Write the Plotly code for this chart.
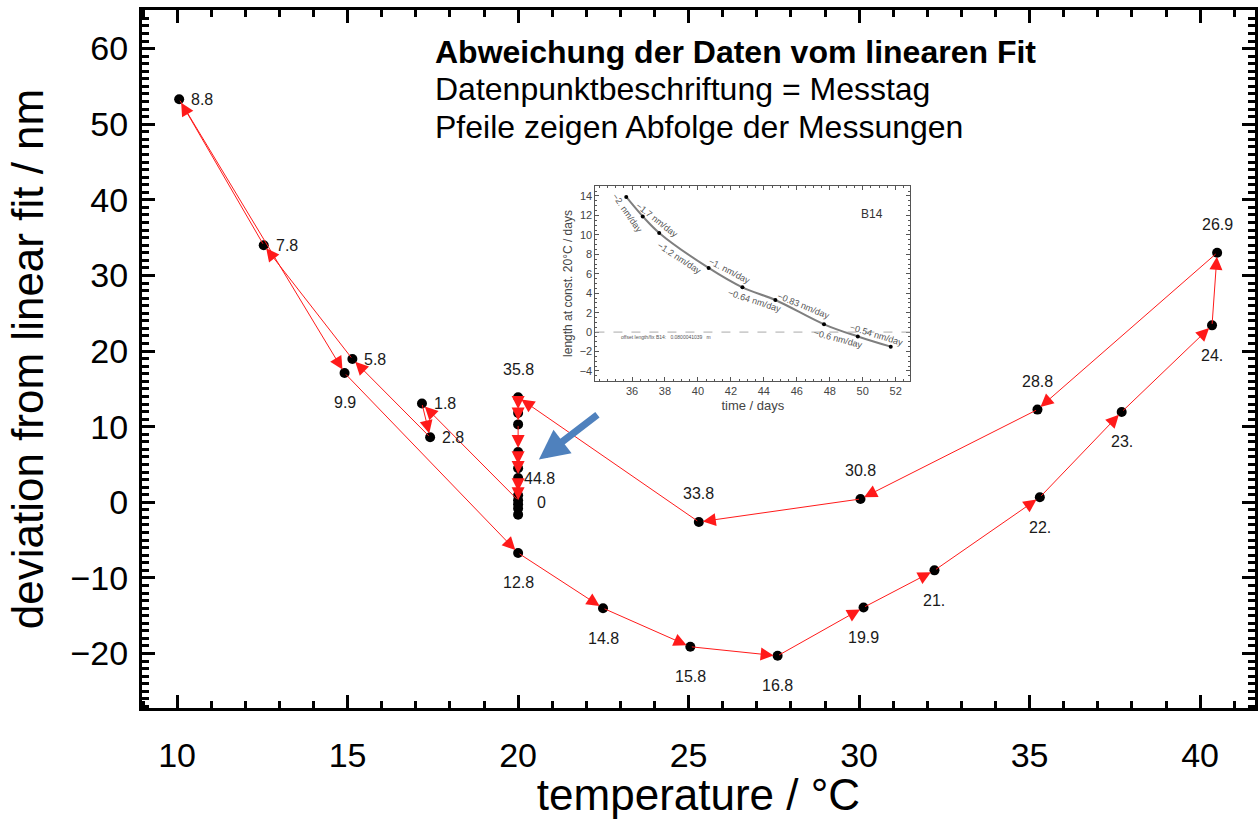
import plotly.graph_objects as go

# ---------------- data ----------------
# measurement sequence in chronological order; label = day of measurement
measure_day = ["0", "1.8", "2.8", "5.8", "7.8", "8.8", "9.9", "12.8", "14.8", "15.8",
               "16.8", "19.9", "21.", "22.", "23.", "24.", "26.9", "28.8", "30.8", "33.8",
               "35.8", "", "", "", "", "44.8", "", "", "", ""]
temperature = [20.0, 17.18, 17.42, 15.14, 12.54, 10.06, 14.91, 20.0, 22.49, 25.05,
               27.61, 30.13, 32.21, 35.30, 37.70, 40.35, 40.50, 35.23, 30.04, 25.30,
               20.0, 20.0, 20.0, 20.0, 20.0, 20.0, 20.0, 20.0, 20.0, 20.0]
deviation = [0.26, 13.06, 8.6, 18.95, 34.0, 53.3, 17.1, -6.7, -14.0, -19.1,
             -20.3, -13.9, -9.0, 0.66, 11.95, 23.4, 33.0, 12.26, 0.44, -2.6,
             13.9, 11.8, 10.3, 6.65, 4.5, 3.2, 0.93, -0.26, -0.83, -1.63]

# inset: length at constant 20 °C
inset_days = [35.65, 36.65, 37.65, 40.65, 42.7, 44.7, 47.65, 49.7, 51.7]
inset_length = [13.9, 11.9, 10.2, 6.6, 4.6, 3.3, 0.8, -0.45, -1.5]
inset_rates = ["\u22122. nm/day", "\u22121.7 nm/day", "\u22121.2 nm/day", "\u22121. nm/day",
               "\u22120.64 nm/day", "\u22120.83 nm/day", "\u22120.6 nm/day", "\u22120.54 nm/day"]
inset_xticks = [36, 38, 40, 42, 44, 46, 48, 50, 52]
inset_yticks = [-4, -2, 0, 2, 4, 6, 8, 10, 12, 14]

title_lines = ["<b>Abweichung der Daten vom linearen Fit</b>",
               "Datenpunktbeschriftung = Messtag",
               "Pfeile zeigen Abfolge der Messungen"]

# ---------------- styles ----------------
label_side = ["R", "r", "r", "r", "r", "r", "b", "b", "b", "b",
              "b", "b", "b", "b", "b", "b", "a", "a", "a", "a",
              "a", "", "", "", "", "s", "", "", "", ""]
side_style = {
    "r": dict(xanchor="left", yanchor="middle", xshift=10, yshift=0),
    "R": dict(xanchor="left", yanchor="middle", xshift=17, yshift=-2),
    "s": dict(xanchor="left", yanchor="middle", xshift=4, yshift=0),
    "b": dict(xanchor="center", yanchor="middle", xshift=0, yshift=-30),
    "a": dict(xanchor="center", yanchor="middle", xshift=0, yshift=28),
}
rate_shift = [(-7, -6), (6, 5), (-5, -8), (4, 7), (-4, -7), (4, 6.5), (-2.5, -8.6), (2.5, 6.8)]
rate_angle = [55, 38, 33, 27, 18, 22, 15, 17]

FONT = "Liberation Sans, Arial, sans-serif"

fig = go.Figure()

fig.add_trace(go.Scatter(
    x=temperature, y=deviation, mode="markers",
    marker=dict(color="black", size=10), hoverinfo="skip", showlegend=False))

fig.add_trace(go.Scatter(
    x=inset_days, y=inset_length, xaxis="x2", yaxis="y2", mode="lines+markers",
    line=dict(color="#7f7f7f", width=2, shape="spline"),
    marker=dict(color="black", size=4), hoverinfo="skip", showlegend=False))

# arrows showing the sequence of measurements
for i in range(len(temperature) - 1):
    fig.add_annotation(
        x=temperature[i + 1], y=deviation[i + 1], ax=temperature[i], ay=deviation[i],
        xref="x", yref="y", axref="x", ayref="y", text="", showarrow=True,
        arrowhead=2, arrowsize=2.6, arrowwidth=1, arrowcolor="#ff1a1a", standoff=4)

# point labels
for t, d, lab, side in zip(temperature, deviation, measure_day, label_side):
    if lab:
        fig.add_annotation(x=t, y=d, xref="x", yref="y", text=lab, showarrow=False,
                           font=dict(size=16, color="#1a1a1a", family=FONT),
                           **side_style[side])

# title block
for k, line in enumerate(title_lines):
    fig.add_annotation(x=0.2616, y=[0.9398, 0.8868, 0.8324][k], xref="paper", yref="paper",
                       text=line, showarrow=False, xanchor="left", yanchor="middle",
                       font=dict(size=32, color="black", family=FONT))

# blue pointer arrow to the 20 °C series
fig.add_annotation(x=20.61, y=5.65, ax=22.37, ay=11.73, xref="x", yref="y",
                   axref="x", ayref="y", text="", showarrow=True, arrowhead=2,
                   arrowsize=0.85, arrowwidth=7, arrowcolor="#4F81BD")

# inset rate labels
for j, txt in enumerate(inset_rates):
    xm = (inset_days[j] + inset_days[j + 1]) / 2
    ym = (inset_length[j] + inset_length[j + 1]) / 2
    fig.add_annotation(x=xm, y=ym, xref="x2", yref="y2", text=txt, showarrow=False,
                       textangle=rate_angle[j], xshift=rate_shift[j][0], yshift=rate_shift[j][1],
                       font=dict(size=9, color="#555", family=FONT))

fig.add_annotation(x=0.92, y=0.9, xref="x2 domain", yref="y2 domain", text="B14",
                   showarrow=False, font=dict(size=12, color="#333", family=FONT))
fig.add_annotation(x=35.2, y=-0.5, xref="x2", yref="y2", xanchor="left",
                   text="offset length/fix B14:   0.0800041039   m", showarrow=False,
                   font=dict(size=5, color="#555", family=FONT))

fig.add_shape(type="line", xref="x2 domain", x0=0, x1=1, yref="y2", y0=0, y1=0,
              line=dict(color="#aaaaaa", width=1, dash="dash"))

main_axis = dict(
    ticks="inside", ticklen=13, tickwidth=3, tickcolor="black",
    showline=True, linewidth=3, linecolor="black", mirror="allticks",
    showgrid=False, zeroline=False,
    tickfont=dict(size=34, color="black", family=FONT),
    minor=dict(ticks="inside", ticklen=7, tickwidth=3, tickcolor="black"),
)
inset_axis = dict(
    ticks="inside", ticklen=4, tickwidth=1, tickcolor="#555",
    showline=True, linewidth=1, linecolor="#555", mirror="allticks",
    showgrid=False, zeroline=False,
    tickfont=dict(size=11, color="#444", family=FONT),
    minor=dict(ticks="inside", ticklen=2, tickwidth=1, tickcolor="#555"),
)

fig.update_layout(
    width=1258, height=819,
    margin=dict(l=142, r=0, t=10, b=111),
    paper_bgcolor="white", plot_bgcolor="white",
    font=dict(family=FONT, color="black"),
    showlegend=False,
    xaxis=dict(main_axis, range=[8.97, 41.61], tick0=10, dtick=5,
               minor=dict(main_axis["minor"], dtick=1),
               ticklabelstandoff=15,
               title=dict(text="temperature / °C", font=dict(size=44, family=FONT), standoff=4)),
    yaxis=dict(main_axis, range=[-27.2, 65.1], tick0=0, dtick=10,
               minor=dict(main_axis["minor"], dtick=1),
               ticklabelstandoff=4,
               title=dict(text="deviation from linear fit / nm", font=dict(size=44, family=FONT), standoff=14)),
    xaxis2=dict(inset_axis, domain=[0.4074, 0.6902], anchor="y2", range=[33.78, 52.88],
                tickmode="array", tickvals=inset_xticks,
                minor=dict(inset_axis["minor"], dtick=0.5, tick0=34),
                title=dict(text="time / days", font=dict(size=13, color="#444", family=FONT), standoff=4)),
    yaxis2=dict(inset_axis, domain=[0.4685, 0.7479], anchor="x2", range=[-5.03, 15.03],
                tickmode="array", tickvals=inset_yticks,
                minor=dict(inset_axis["minor"], dtick=0.5, tick0=0),
                title=dict(text="length at const. 20°C / days", font=dict(size=12, color="#444", family=FONT), standoff=4)),
)

fig.write_html("out.html")
